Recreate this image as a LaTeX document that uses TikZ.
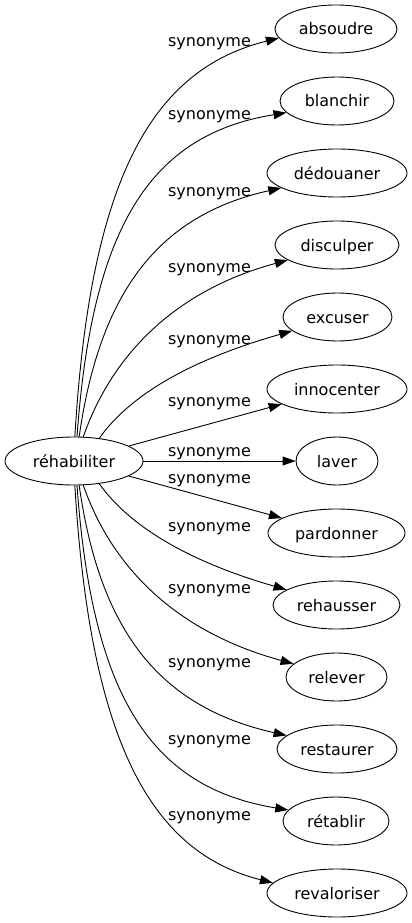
\documentclass[tikz,border=0pt]{standalone}
\usepackage{fontspec}
\setmainfont{DejaVu Sans}
\usetikzlibrary{shapes.geometric,arrows.meta}
\begin{document}
\begin{tikzpicture}[x=1pt,y=-1pt,
  nd/.style={ellipse,draw,line width=0.9pt,minimum height=48pt,inner sep=0pt,
    text height=12pt,text depth=0pt,font=\fontsize{16}{18}\selectfont},
  lbl/.style={anchor=base,inner sep=0pt,font=\fontsize{16}{18}\selectfont},
  syn/.style={line width=0.9pt,-{Triangle[length=13pt,width=9pt]}}]
\path[use as bounding box] (0,0) rectangle (412,923);
\node[nd,minimum width=138pt] (c) at (74,461) {réhabiliter};
\node[nd,minimum width=122pt] (t1) at (336,29) {absoudre};
\node[nd,minimum width=114pt] (t2) at (337,101) {blanchir};
\node[nd,minimum width=140pt] (t3) at (337,173) {dédouaner};
\node[nd,minimum width=124pt] (t4) at (337,245) {disculper};
\node[nd,minimum width=109pt] (t5) at (337.5,317) {excuser};
\node[nd,minimum width=140pt] (t6) at (337,389) {innocenter};
\node[nd,minimum width=82pt] (t7) at (337,461) {laver};
\node[nd,minimum width=137pt] (t8) at (336.5,533) {pardonner};
\node[nd,minimum width=127pt] (t9) at (336.5,605) {rehausser};
\node[nd,minimum width=101pt] (t10) at (336.5,677) {relever};
\node[nd,minimum width=120pt] (t11) at (337,749) {restaurer};
\node[nd,minimum width=106pt] (t12) at (336,821) {rétablir};
\node[nd,minimum width=140pt] (t13) at (337,893) {revaloriser};
\node[lbl] (l1) at (209.5,46.5) {synonyme};
\node[lbl] (l2) at (209.5,119.5) {synonyme};
\node[lbl] (l3) at (209.5,196.5) {synonyme};
\node[lbl] (l4) at (209.5,272.5) {synonyme};
\node[lbl] (l5) at (209.5,344.5) {synonyme};
\node[lbl] (l6) at (209.5,406.5) {synonyme};
\node[lbl] (l7) at (209.5,456.5) {synonyme};
\node[lbl] (l8) at (209.5,483.5) {synonyme};
\node[lbl] (l9) at (209.5,531.5) {synonyme};
\node[lbl] (l10) at (209.5,593.5) {synonyme};
\node[lbl] (l11) at (209.5,667.5) {synonyme};
\node[lbl] (l12) at (209.5,744.5) {synonyme};
\node[lbl] (l13) at (209.5,820.5) {synonyme};
\draw[syn] (c.88) .. controls (90,182) and (150,70) .. (t1.189);
\draw[syn] (c.83) .. controls (92,230) and (148,135) .. (t2.193);
\draw[syn] (c.78) .. controls (100,290) and (160,215) .. (t3.195);
\draw[syn] (c.69) .. controls (110,360) and (170,292) .. (t4.197);
\draw[syn] (c.42) .. controls (130,395) and (190,360) .. (t5.197);
\draw[syn] (c) -- (t6);
\draw[syn] (c) -- (t7);
\draw[syn] (c) -- (t8);
\draw[syn] (c.318) .. controls (130,527) and (190,562) .. (t9.163);
\draw[syn] (c.291) .. controls (110,562) and (170,630) .. (t10.163);
\draw[syn] (c.282) .. controls (100,632) and (160,707) .. (t11.165);
\draw[syn] (c.277) .. controls (92,692) and (148,787) .. (t12.167);
\draw[syn] (c.272) .. controls (90,740) and (150,852) .. (t13.171);
\end{tikzpicture}
\end{document}
